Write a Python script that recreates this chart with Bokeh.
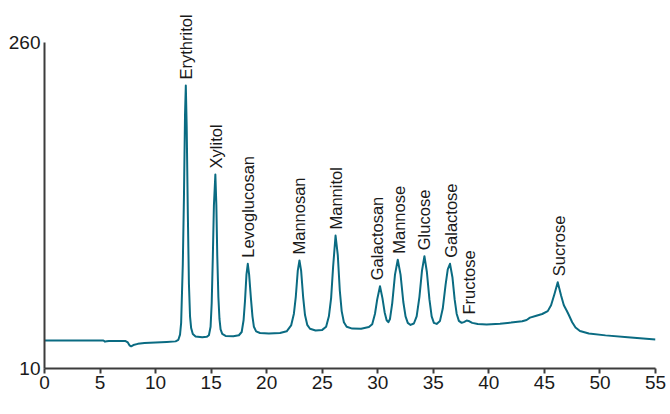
from math import pi
from bokeh.plotting import figure
from bokeh.models import ColumnDataSource, Range1d, FixedTicker, Label
from bokeh.core.properties import value
from bokeh.embed import file_html
from bokeh.resources import INLINE

# ---- data (time in min, signal in nC) ----
time_min = [0.0, 5.3, 5.45, 5.6, 5.8, 7.3, 7.5, 7.65, 7.8, 8.0, 8.4, 9.0, 10.0, 11.0, 11.8,
            12.05, 12.2, 12.3, 12.45, 12.55, 12.65, 12.72, 12.8, 12.9, 13.0, 13.1, 13.2,
            13.35, 13.6, 14.2, 14.6, 14.8, 14.95, 15.05, 15.15, 15.25, 15.38, 15.47, 15.55,
            15.65, 15.75, 15.85, 16.0, 16.3, 17.0, 17.5, 17.75, 17.92, 18.05, 18.18, 18.3,
            18.42, 18.58, 18.72, 18.85, 19.05, 19.4, 20.2, 21.2, 21.8, 22.2, 22.45, 22.62,
            22.8, 22.95, 23.1, 23.28, 23.45, 23.65, 23.9, 24.4, 25.0, 25.35, 25.6, 25.8,
            25.98, 26.2, 26.4, 26.58, 26.75, 26.95, 27.2, 27.7, 28.5, 29.2, 29.5, 29.75,
            29.95, 30.2, 30.42, 30.62, 30.8, 30.95, 31.1, 31.3, 31.55, 31.8, 32.05, 32.3,
            32.5, 32.7, 32.95, 33.25, 33.5, 33.75, 33.98, 34.2, 34.42, 34.65, 34.85, 35.05,
            35.3, 35.6, 35.85, 36.1, 36.3, 36.5, 36.72, 36.92, 37.1, 37.3, 37.55, 37.8,
            38.0, 38.25, 38.5, 39.0, 39.8, 41.0, 42.0, 43.0, 43.4, 43.7, 44.2, 44.8,
            45.3, 45.6, 45.9, 46.2, 46.5, 46.75, 47.0, 47.2, 47.5, 47.8, 48.2, 49.0,
            50.5, 52.5, 55.0]
signal_nc = [31.5, 31.5, 30.6, 30.9, 31.1, 31.0, 30.0, 27.8, 27.0, 28.0, 28.9, 29.5, 30.0, 30.4, 30.8,
             32.0, 36, 45, 90, 140, 205, 227, 195, 130, 75, 50, 41,
             36.5, 34.6, 34.0, 34.3, 35.5, 42, 60, 95, 135, 158.8, 135, 97,
             65, 48, 40, 36.5, 35.0, 34.8, 35.5, 38, 47, 62, 82, 90.3,
             82, 64, 50, 42, 38.5, 37.2, 36.8, 37.2, 38.5, 43, 52, 65,
             85, 92.8, 85, 65, 51, 43.5, 40.5, 39.2, 39.6, 42, 50, 64,
             88, 112, 97, 70, 54, 45.5, 42, 40.6, 40.5, 41.8, 44, 52,
             63, 73.1, 64, 53, 47, 45.5, 48, 60, 82, 93.4, 82, 61,
             50, 45, 43.4, 44.5, 50, 65, 85, 96.1, 84, 63, 50, 45,
             44.2, 46.5, 56, 74, 86, 90.3, 80, 63, 52, 46.5, 45.0, 45.8,
             46.8, 46.2, 45.0, 44.1, 43.8, 44.4, 45.2, 46.3, 47.2, 49.0, 50.3, 51.8,
             54, 58.5, 67, 76.2, 66, 58.5, 54.5, 51, 45.5, 41.5, 38.8, 36.8,
             35.4, 34.0, 32.2]

peak_names = ["Erythritol", "Xylitol", "Levoglucosan", "Mannosan", "Mannitol",
              "Galactosan", "Mannose", "Glucose", "Galactose", "Fructose", "Sucrose"]
peak_label_time = [12.72, 15.42, 18.3, 22.95, 26.2, 29.9, 31.95, 34.2, 36.6, 38.2, 46.3]
peak_height = [227, 158.8, 90.3, 92.8, 112, 73.1, 93.4, 96.1, 90.3, 46.8, 76.2]

x_ticks = [0, 5, 10, 15, 20, 25, 30, 35, 40, 45, 50, 55]
y_ticks = [10, 260]

# ---- styling ----
FONT = "Liberation Sans"
LINE = "#0a6b82"
AXIS = "#3c3c3c"
TXT = "#1a1a1a"

p = figure(width=670, height=414, output_backend="svg", toolbar_location=None,
           title=None,
           x_range=Range1d(0, 55), y_range=Range1d(10, 292.2),
           min_border_left=44, min_border_right=15, min_border_top=0,
           min_border_bottom=46)
p.outline_line_color = None
p.grid.visible = False
p.background_fill_color = "white"
p.border_fill_color = "white"

p.line(time_min, signal_nc, line_color=LINE, line_width=2, line_join="round")

src = ColumnDataSource(dict(x=peak_label_time, y=peak_height, t=peak_names))
p.text(x="x", y="y", text="t", source=src, angle=pi / 2, y_offset=-6,
       text_align="left", text_baseline="middle", text_font=value(FONT),
       text_font_size="16.5px", text_color=TXT)

# x axis
xa = p.xaxis[0]
xa.ticker = FixedTicker(ticks=x_ticks)
xa.bounds = (0, 55)
xa.axis_line_color = AXIS
xa.axis_line_width = 2
xa.major_tick_line_color = AXIS
xa.major_tick_line_width = 2
xa.major_tick_out = 5
xa.major_tick_in = 0
xa.minor_tick_line_color = None
xa.major_label_text_font = FONT
xa.major_label_text_font_size = "19px"
xa.major_label_text_color = TXT
xa.major_label_standoff = 2

# y axis
ya = p.yaxis[0]
ya.ticker = FixedTicker(ticks=y_ticks)
ya.bounds = (10, 260)
ya.axis_line_color = AXIS
ya.axis_line_width = 2
ya.major_tick_line_color = None
ya.minor_tick_line_color = None
ya.major_tick_out = 0
ya.major_tick_in = 0
ya.major_label_text_font = FONT
ya.major_label_text_font_size = "19px"
ya.major_label_text_color = TXT
ya.major_label_standoff = 4

p.add_layout(Label(x=-1.6, y=135, text="nC", angle=pi / 2, text_align="center",
                   text_baseline="middle", text_font=FONT, text_font_size="16px",
                   text_color=TXT))
p.add_layout(Label(x=30.2, y=-18.4, text="Time (min)", text_align="center",
                   text_baseline="middle", text_font=FONT, text_font_size="17px",
                   text_color=TXT))

open("out.html", "w").write(file_html(p, INLINE))
